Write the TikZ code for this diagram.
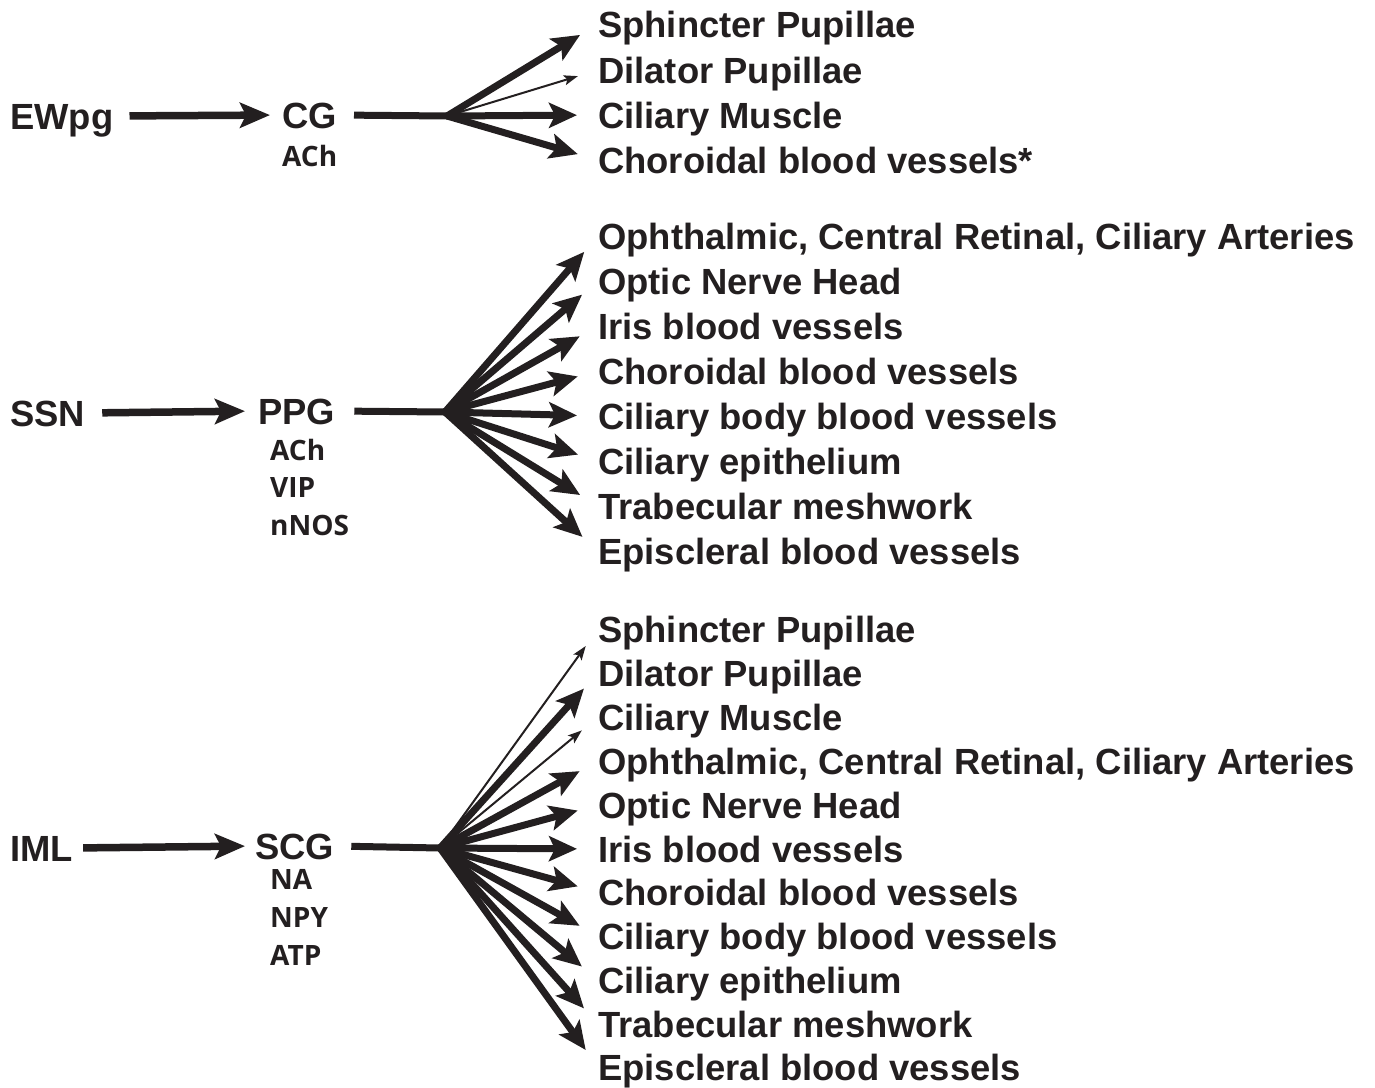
\documentclass[tikz,border=0pt]{standalone}
\usepackage{fontspec}
\setmainfont{Liberation Sans}
\newfontfamily\subfont{Open Sans}
\usetikzlibrary{arrows.meta}
\definecolor{ink}{HTML}{231F20}
\tikzset{
  fat/.style={draw=ink,line width=7pt,shorten >=21pt,-{Stealth[length=28pt,width=25pt,inset=6pt]}},
  slim/.style={draw=ink,line width=2pt,shorten >=21pt,-{Stealth[length=14pt,width=10pt,inset=3pt]}},
  feed/.style={draw=ink,line width=7.5pt,-{Stealth[length=30pt,width=25pt,inset=6pt]}},
  stem/.style={draw=ink,line width=7pt}
}
\begin{document}
\begin{tikzpicture}[x=1pt,y=-1pt]
    \tikzstyle{every node}=[anchor=west,inner sep=0pt,text=ink];
    \tikzstyle{big}=[font=\fontsize{36.4}{40}\selectfont\bfseries,text height=26pt,text depth=0pt];
    \tikzstyle{small}=[font=\fontsize{28}{32}\subfont\bfseries,text height=20pt,text depth=0pt];
    \useasboundingbox (0,0) rectangle (1375,1087);
    %\node (name) at (x,y) [style] {text};
    %\draw [fat] (fan) -- (organ);
    % ciliary ganglion
    \node (ewpg) at (10,116) [big] {EWpg};
    \node (cg) at (282,115) [big] {CG};
    \node (ach1) at (282,156) [small] {ACh};
    \coordinate (fan1) at (447,116);
    \node (sph1) at (598,24) [big] {Sphincter Pupillae};
    \node (dil1) at (598,70) [big] {Dilator Pupillae};
    \node (cm1) at (598,115) [big] {Ciliary Muscle};
    \node (chor1) at (598,160) [big] {Choroidal blood vessels*};
    % pterygopalatine ganglion
    \node (ssn) at (10,413) [big] {SSN};
    \node (ppg) at (258,411) [big] {PPG};
    \node (ach2) at (270,450) [small] {ACh};
    \node (vip) at (270,487) [small] {VIP};
    \node (nnos) at (270,525) [small] {nNOS};
    \coordinate (fan2) at (445,412);
    \node (oph2) at (598,236) [big] {Ophthalmic, Central Retinal, Ciliary Arteries};
    \node (onh2) at (598,281) [big] {Optic Nerve Head};
    \node (iris2) at (598,326) [big] {Iris blood vessels};
    \node (chor2) at (598,371) [big] {Choroidal blood vessels};
    \node (cbv2) at (598,416) [big] {Ciliary body blood vessels};
    \node (cep2) at (598,461) [big] {Ciliary epithelium};
    \node (tm2) at (598,506) [big] {Trabecular meshwork};
    \node (epi2) at (598,551) [big] {Episcleral blood vessels};
    % superior cervical ganglion
    \node (iml) at (10,848) [big] {IML};
    \node (scg) at (255,846) [big] {SCG};
    \node (na) at (270,879) [small] {NA};
    \node (npy) at (270,917) [small] {NPY};
    \node (atp) at (270,955) [small] {ATP};
    \coordinate (fan3) at (440,848);
    \node (sph3) at (598,629) [big] {Sphincter Pupillae};
    \node (dil3) at (598,673) [big] {Dilator Pupillae};
    \node (cm3) at (598,717) [big] {Ciliary Muscle};
    \node (oph3) at (598,761) [big] {Ophthalmic, Central Retinal, Ciliary Arteries};
    \node (onh3) at (598,805) [big] {Optic Nerve Head};
    \node (iris3) at (598,849) [big] {Iris blood vessels};
    \node (chor3) at (598,892) [big] {Choroidal blood vessels};
    \node (cbv3) at (598,936) [big] {Ciliary body blood vessels};
    \node (cep3) at (598,980) [big] {Ciliary epithelium};
    \node (tm3) at (598,1024) [big] {Trabecular meshwork};
    \node (epi3) at (598,1067) [big] {Episcleral blood vessels};
    \draw[feed,shorten <=16pt,shorten >=12pt] (ewpg.east) -- (cg.west);
    \draw[feed,shorten <=17pt,shorten >=13pt] (ssn.east) -- (ppg.west);
    \draw[feed,shorten <=10pt,shorten >=10pt] (iml.east) -- (scg.west);
    \draw[stem,shorten <=17pt] (cg.east) -- (fan1);
    \draw[stem,shorten <=19pt] (ppg.east) -- (fan2);
    \draw[stem,shorten <=17pt] (scg.east) -- (fan3);
    \draw[fat] (fan1) -- (sph1.west);
    \draw[slim] (fan1) -- (dil1.west);
    \draw[fat] (fan1) -- (cm1.west);
    \draw[fat] (fan1) -- (chor1.west);
    \draw[fat] (fan2) -- (oph2.west);
    \draw[fat] (fan2) -- (onh2.west);
    \draw[fat] (fan2) -- (iris2.west);
    \draw[fat] (fan2) -- (chor2.west);
    \draw[fat] (fan2) -- (cbv2.west);
    \draw[fat] (fan2) -- (cep2.west);
    \draw[fat] (fan2) -- (tm2.west);
    \draw[fat] (fan2) -- (epi2.west);
    \draw[slim] (fan3) -- (sph3.west);
    \draw[fat] (fan3) -- (dil3.west);
    \draw[slim] (fan3) -- (cm3.west);
    \draw[fat] (fan3) -- (oph3.west);
    \draw[fat] (fan3) -- (onh3.west);
    \draw[fat] (fan3) -- (iris3.west);
    \draw[fat] (fan3) -- (chor3.west);
    \draw[fat] (fan3) -- (cbv3.west);
    \draw[fat] (fan3) -- (cep3.west);
    \draw[fat] (fan3) -- (tm3.west);
    \draw[fat] (fan3) -- (epi3.west);
  \end{tikzpicture}
\end{document}
